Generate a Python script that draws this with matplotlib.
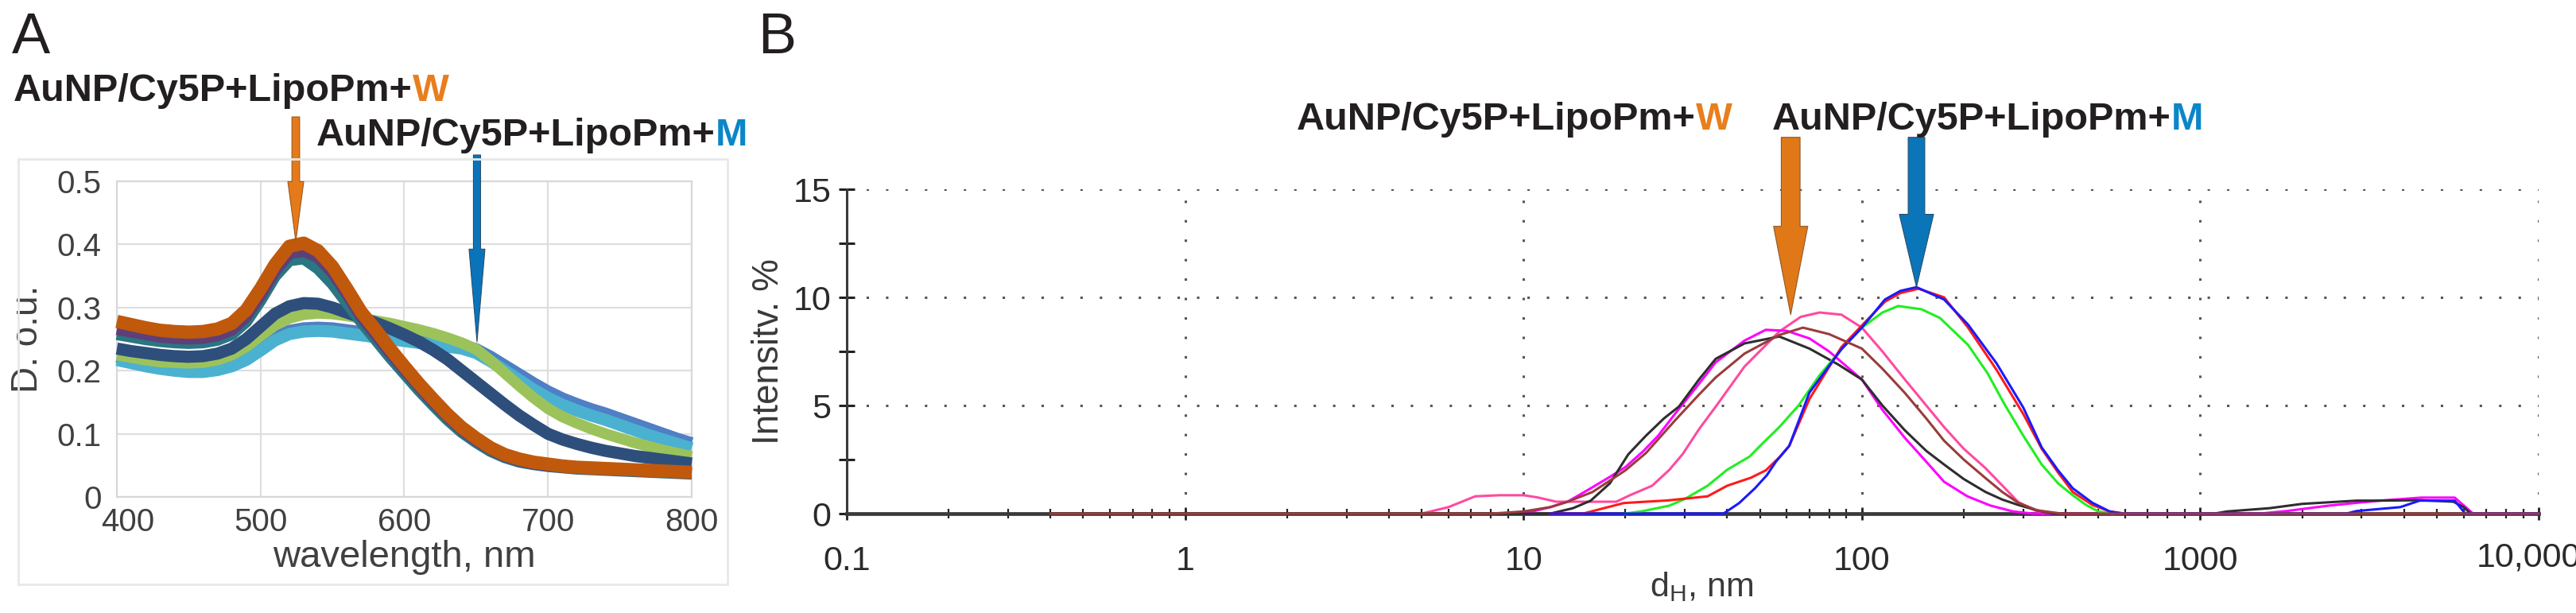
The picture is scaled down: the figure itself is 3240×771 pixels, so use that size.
import matplotlib
matplotlib.use('Agg')
import matplotlib.pyplot as plt
from matplotlib import font_manager
from matplotlib.patches import Rectangle
from matplotlib.ticker import FixedLocator, LogLocator, NullFormatter
from matplotlib.transforms import ScaledTranslation

names = {f.name for f in font_manager.fontManager.ttflist}
narrow = 'Liberation Sans Narrow' if 'Liberation Sans Narrow' in names else 'Liberation Sans'
plt.rcParams['font.family'] = ['Liberation Sans', 'DejaVu Sans']
plt.rcParams['mathtext.fontset'] = 'custom'
plt.rcParams['mathtext.rm'] = 'Liberation Sans'
plt.rcParams['mathtext.it'] = 'Liberation Sans:italic'

# ---- panel A: absorbance spectra ----
wl = [400, 410, 420, 430, 440, 450, 460, 470, 480, 490, 500, 510, 520, 530, 540,
      550, 560, 570, 580, 590, 600, 610, 620, 630, 640, 650, 660, 670, 680, 690,
      700, 710, 720, 730, 740, 750, 760, 770, 780, 790, 800]
spec_w = [.278, .273, .268, .264, .262, .261, .262, .266, .275, .296, .330, .368, .397, .402, .390,
          .365, .330, .293, .265, .235, .207, .180, .155, .131, .110, .093, .078, .067, .060, .055,
          .052, .049, .047, .046, .045, .044, .043, .042, .041, .040, .039]
spec_w2 = [.266, .262, .258, .254, .252, .251, .252, .256, .265, .286, .320, .358, .386, .390, .380,
           .356, .322, .286, .258, .229, .202, .176, .151, .128, .107, .090, .076, .065, .058, .053,
           .050, .048, .046, .045, .044, .043, .042, .041, .040, .039, .038]
spec_teal = [.258, .254, .250, .247, .245, .244, .245, .249, .258, .278, .312, .350, .375, .378, .362,
             .338, .308, .278, .250, .222, .196, .170, .146, .123, .103, .087, .073, .063, .056, .052,
             .049, .047, .045, .044, .043, .042, .041, .040, .039, .038, .037]
spec_navy = [.235, .231, .228, .225, .223, .222, .223, .227, .235, .250, .270, .290, .302, .307, .306,
             .300, .292, .284, .276, .267, .257, .246, .233, .218, .200, .182, .164, .146, .129, .114,
             .100, .091, .084, .078, .073, .069, .065, .062, .059, .056, .053]
spec_green = [.225, .221, .217, .214, .213, .212, .213, .217, .225, .238, .255, .272, .283, .289, .291,
              .290, .287, .283, .279, .275, .270, .265, .259, .252, .244, .234, .216, .196, .176, .157,
              .140, .127, .117, .108, .100, .093, .086, .080, .074, .069, .064]
spec_lblue = [.217, .212, .207, .203, .200, .198, .198, .201, .207, .217, .232, .248, .258, .262, .263,
              .262, .259, .256, .253, .250, .247, .244, .241, .238, .235, .228, .215, .200, .185, .170,
              .157, .146, .137, .129, .122, .114, .106, .098, .091, .084, .077]
spec_mblue = [.222, .217, .212, .208, .205, .203, .203, .206, .212, .222, .237, .253, .263, .267, .268,
              .267, .264, .261, .258, .255, .252, .249, .246, .243, .240, .234, .222, .208, .194, .180,
              .167, .156, .147, .139, .132, .124, .116, .108, .100, .092, .085]
a_xticks = [400, 500, 600, 700, 800]
a_yticks = [0, 0.1, 0.2, 0.3, 0.4, 0.5]
a_ylabels = ['0', '0.1', '0.2', '0.3', '0.4', '0.5']

# ---- panel B: DLS size distributions ----
black_d = [0.4, 12, 14, 15.8, 18, 20.4, 23, 26, 28.8, 33, 37, 45, 57, 70, 85, 100, 115, 134, 155, 175,
           200, 232, 260, 290, 330, 370, 1100, 1200, 1600, 2000, 2900, 3300, 4500, 5600, 6000, 6300, 10000]
black_i = [0, 0, 0.25, 0.6, 1.4, 2.74, 3.6, 4.4, 4.95, 6.2, 7.16, 7.87, 8.19, 7.63, 6.9, 6.2, 5.0, 3.85, 2.9, 2.27,
           1.6, 1.0, 0.65, 0.4, 0.15, 0, 0, 0.1, 0.25, 0.45, 0.6, 0.6, 0.62, 0.55, 0.3, 0, 0]
brown_d = [0.4, 8, 9, 10, 12, 13.5, 16, 20, 23, 28, 33, 37, 45, 57, 67, 80, 100, 115, 134, 155,
           175, 200, 232, 260, 290, 330, 390, 10000]
brown_i = [0, 0, 0.05, 0.1, 0.3, 0.55, 1.0, 2.0, 2.8, 4.3, 5.5, 6.3, 7.4, 8.26, 8.6, 8.3, 7.63, 6.7, 5.58, 4.4,
           3.37, 2.5, 1.64, 1.0, 0.5, 0.15, 0, 0]
magenta_d = [10, 12, 13.5, 15.8, 18, 20, 22.6, 25, 28, 33, 37, 45, 52, 60, 70, 80, 100, 115, 134, 155,
             175, 205, 240, 280, 320, 1500, 1800, 2400, 2900, 3400, 4500, 5650, 6400, 10000]
magenta_i = [0, 0.3, 0.55, 1.17, 1.7, 2.15, 2.89, 3.6, 4.6, 6.0, 7.0, 8.0, 8.5, 8.45, 8.1, 7.5, 6.2, 4.8, 3.5, 2.4,
             1.47, 0.8, 0.37, 0.1, 0, 0, 0.12, 0.37, 0.5, 0.6, 0.74, 0.74, 0, 0]
pink_d = [5.0, 6.0, 7.2, 8.5, 10, 11, 12.5, 15.8, 18.8, 20.7, 24, 27, 29.6, 33, 37, 45, 57, 66, 75, 87,
          100, 115, 134, 155, 175, 200, 232, 260, 290, 340]
pink_i = [0, 0.3, 0.8, 0.85, 0.85, 0.75, 0.55, 0.55, 0.55, 0.86, 1.29, 2.03, 2.77, 3.9, 4.95, 6.8, 8.42, 9.1, 9.3, 9.2,
          8.6, 7.5, 6.2, 5.0, 4.0, 3.0, 2.1, 1.3, 0.53, 0]
green_d = [20, 22.6, 27, 30, 35, 40, 46.6, 50, 57, 65, 75, 87, 100, 115, 128, 150, 170, 206, 235, 263,
           300, 340, 380, 420, 460, 500, 550]
green_i = [0, 0.12, 0.37, 0.68, 1.29, 2.03, 2.64, 3.13, 4.0, 5.0, 6.4, 7.6, 8.6, 9.3, 9.6, 9.45, 9.05, 7.8, 6.5, 5.1,
           3.6, 2.27, 1.4, 0.85, 0.4, 0.1, 0]
red_d = [12, 15, 16.6, 19.8, 26.7, 35, 40, 47, 52, 57, 61, 70, 87, 100, 117, 130, 147, 175, 206, 250,
         300, 340, 380, 420, 480, 540, 600]
red_i = [0, 0, 0.18, 0.49, 0.61, 0.8, 1.29, 1.66, 2.0, 2.6, 3.13, 5.3, 7.7, 8.7, 9.8, 10.2, 10.4, 10.0, 8.6, 6.65,
         4.6, 3.0, 1.9, 1.0, 0.4, 0.1, 0]
blue_d = [12, 39, 43.4, 48.3, 52.4, 55.7, 61, 70, 87, 100, 117, 130, 145, 175, 206, 250, 300, 340, 380, 420,
          480, 540, 590, 2700, 2900, 3900, 4450, 5650, 6070, 10000]
blue_i = [0, 0, 0.49, 1.17, 1.78, 2.4, 3.13, 5.6, 7.6, 8.6, 9.9, 10.3, 10.47, 9.9, 8.74, 6.95, 4.9, 3.06, 2.0, 1.17,
          0.5, 0.1, 0, 0, 0.12, 0.3, 0.6, 0.6, 0, 0]
b_xticks = [0.1, 1, 10, 100, 1000, 10000]
b_xlabels = ['0.1', '1', '10', '100', '1000', '']
b_yticks = [0, 5, 10, 15]

W, H = 3241, 771
fig = plt.figure(figsize=(W / 100, H / 100), dpi=100)


def fx(px):
    return px / W


def fy(py):
    return 1 - py / H


def two_tone(px, py, main, last, color):
    t = fig.text(fx(px), fy(py), main, fontsize=35, fontweight='bold', color='#231f20', va='baseline')
    bb = t.get_window_extent(renderer=fig.canvas.get_renderer())
    fig.text(bb.x1 / W, fy(py), last, fontsize=35, fontweight='bold', color=color, va='baseline')


orange_txt = '#e87e1e'
blue_txt = '#0b86c8'

# ================= panel A =================
fig.patches.append(Rectangle((fx(23), fy(735)), fx(915) - fx(23), (735 - 200) / H,
                             transform=fig.transFigure, fill=False, ec='#e8e8e8', lw=2))
axA = fig.add_axes([fx(147), fy(625), (870 - 147) / W, (625 - 228) / H])
a_series = [
    (spec_mblue, '#4f7fc4', 11),
    (spec_lblue, '#4bb1d0', 11),
    (spec_green, '#9cc35b', 10),
    (spec_navy, '#2e4f7b', 11),
    (spec_teal, '#2a7683', 11),
    (spec_w2, '#5e3f78', 11),
    (spec_w, '#c0590c', 12),
]
for vals, col, lw in a_series:
    axA.plot(wl, vals, color=col, lw=lw, clip_on=False, solid_capstyle='butt', zorder=3)

axA.set_xlim(400, 800)
axA.set_ylim(0, 0.5)
axA.set_xticks(a_xticks)
axA.set_yticks(a_yticks)
axA.set_yticklabels(a_ylabels)
axA.grid(True, color='#dedede', lw=1.6)
axA.set_axisbelow(True)
for s in axA.spines.values():
    s.set_color('#d8d8d8')
    s.set_linewidth(1.6)
axA.tick_params(length=0, labelsize=29, labelcolor='#404040')
axA.tick_params(axis='y', pad=14)
axA.tick_params(axis='x', pad=9)
# first x label sits a little to the right, as in the original
first = axA.get_xticklabels()[0]
first.set_transform(first.get_transform() + ScaledTranslation(0.14, 0, fig.dpi_scale_trans))
axA.set_xlabel('wavelength, nm', fontsize=34, color='#404040', va='center')
axA.xaxis.set_label_coords(0.5, (625 - 701) / 397)
axA.set_ylabel('D. o.u.', fontsize=33, color='#404040', va='center')
axA.yaxis.set_label_coords((35 - 147) / 723, 0.5)

axA.annotate('', xy=(524.5, 0.405), xytext=(524.5, 0.602), annotation_clip=False,
             arrowprops=dict(arrowstyle='simple,head_length=54,head_width=14.4,tail_width=7',
                             mutation_scale=1, fc='#e57a1b', ec='#9a5a20', lw=0.8,
                             shrinkA=0, shrinkB=0))
axA.annotate('', xy=(650.6, 0.2456), xytext=(650.6, 0.5416), annotation_clip=False,
             arrowprops=dict(arrowstyle='simple,head_length=84,head_width=14.4,tail_width=6.5',
                             mutation_scale=1, fc='#0a74bb', ec='#2a4f6a', lw=0.8,
                             shrinkA=0, shrinkB=0))

fig.text(fx(15), fy(67), 'A', fontsize=52, color='#231f20', va='baseline')
two_tone(17, 127, 'AuNP/Cy5P+LipoPm+', 'W', orange_txt)
two_tone(398, 183, 'AuNP/Cy5P+LipoPm+', 'M', blue_txt)

# ================= panel B =================
axB = fig.add_axes([fx(1065), fy(646), (3193 - 1065) / W, (646 - 238) / H])
axB.set_xscale('log')
b_series = [
    (pink_d, pink_i, '#ff4aa0'),
    (magenta_d, magenta_i, '#ff00ff'),
    (black_d, black_i, '#2e2e2e'),
    (green_d, green_i, '#22ee22'),
    (red_d, red_i, '#ff1a1a'),
    (blue_d, blue_i, '#1a1aff'),
    (brown_d, brown_i, '#9a3c3c'),
]
for xs, ys, col in b_series:
    axB.plot(xs, ys, color=col, lw=2.2, clip_on=False, zorder=3)

axB.set_xlim(0.1, 10000)
axB.set_ylim(0, 15)
axB.spines['top'].set_visible(False)
axB.spines['right'].set_visible(False)
axB.spines['left'].set_color('#3a3a3a')
axB.spines['left'].set_linewidth(2.2)
axB.spines['bottom'].set_color('#3a3a3a')
axB.spines['bottom'].set_linewidth(3.4)

axB.xaxis.set_major_locator(FixedLocator(b_xticks))
axB.xaxis.set_minor_locator(LogLocator(base=10, subs=range(2, 10), numticks=30))
axB.xaxis.set_minor_formatter(NullFormatter())
axB.set_xticklabels(b_xlabels, fontfamily=narrow, fontsize=31, color='#2a2a2a')
axB.yaxis.set_major_locator(FixedLocator(b_yticks))
axB.yaxis.set_minor_locator(FixedLocator([2.5, 7.5, 12.5]))
axB.set_yticklabels([str(v) for v in b_yticks], fontfamily=narrow, fontsize=31, color='#2a2a2a')
axB.tick_params(axis='x', which='major', direction='inout', length=12, width=2, color='#222', pad=23)
axB.tick_params(axis='x', which='minor', direction='inout', length=9, width=1.6, color='#222')
axB.tick_params(axis='y', which='both', direction='inout', length=14, width=2.2, color='#222', pad=7)
axB.grid(True, which='major', color='#555555', lw=2.2, ls=(0, (1, 7)))
axB.set_axisbelow(True)

axB.annotate('10,000', xy=(10000, 0), xycoords=('data', 'axes fraction'),
             xytext=(-13, -56), textcoords='offset pixels', ha='center', va='center',
             fontsize=31, fontfamily=narrow, color='#2a2a2a', annotation_clip=False)

axB.set_ylabel('Intensitv. %', fontsize=33, color='#3a3a3a', va='center')
axB.yaxis.set_label_coords((967 - 1065) / 2128, 0.5)
axB.set_xlabel(r'd$_\mathrm{H}$, nm', fontsize=31, color='#3a3a3a', va='center')
axB.xaxis.set_label_coords((2140 - 1065) / 2128, (646 - 738) / 408)

axB.annotate('', xy=(61.6, 9.2), xytext=(61.6, 17.4), annotation_clip=False,
             arrowprops=dict(arrowstyle='simple,head_length=80,head_width=31,tail_width=17',
                             mutation_scale=1, fc='#e07818', ec='#8c5a2a', lw=0.8,
                             shrinkA=0, shrinkB=0))
axB.annotate('', xy=(145, 10.47), xytext=(145, 17.4), annotation_clip=False,
             arrowprops=dict(arrowstyle='simple,head_length=66,head_width=31,tail_width=15',
                             mutation_scale=1, fc='#0b75b9', ec='#2a4f6a', lw=0.8,
                             shrinkA=0, shrinkB=0))

fig.text(fx(953), fy(67), 'B', fontsize=52, color='#231f20', va='baseline')
two_tone(1631, 163, 'AuNP/Cy5P+LipoPm+', 'W', orange_txt)
two_tone(2229, 163, 'AuNP/Cy5P+LipoPm+', 'M', blue_txt)

fig.savefig('out.png', dpi=100)
